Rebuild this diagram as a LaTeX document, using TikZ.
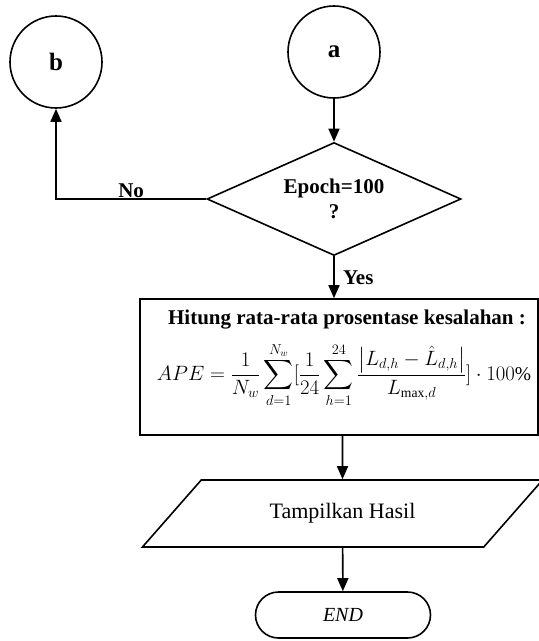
\documentclass[tikz,border=0pt]{standalone}
\usepackage{amsmath}
\usepackage{fontspec}
\setmainfont{Liberation Serif}
\usetikzlibrary{shapes.geometric,arrows.meta}

\newcommand{\apeformula}{$\displaystyle APE=\frac{1}{N_w}\sum_{d=1}^{N_w}[\frac{1}{24}\sum_{h=1}^{24}\frac{\bigl|L_{d,h}-\hat{L}_{d,h}\bigr|}{L_{\max,d}}]\cdot 100\%$}

\begin{document}
\begin{tikzpicture}[x=1pt,y=-1pt,line width=1.6pt,
    >={Triangle[length=13pt,width=11pt]},
    every node/.style={font=\fontsize{21}{24}\selectfont},
    conn/.style={draw,circle,minimum size=92pt,inner sep=0pt,font=\fontsize{25}{28}\selectfont\bfseries},
    decision/.style={draw,diamond,aspect=2.25,minimum width=254pt,minimum height=113pt,inner sep=0pt,align=center,font=\fontsize{21}{25}\selectfont\bfseries},
    procbox/.style={draw,rectangle,minimum width=398pt,minimum height=136pt},
    io/.style={draw,trapezium,trapezium left angle=40,trapezium right angle=140,trapezium stretches=true,minimum width=401pt,minimum height=67pt,font=\fontsize{22}{24}\selectfont},
    term/.style={draw,rounded corners=23pt,minimum width=175pt,minimum height=46pt,font=\fontsize{20}{24}\selectfont\itshape}]
    \useasboundingbox (0,0) rectangle (539,641);

    \node[conn] (a) at (334,52) {a};
    \node[conn] (b) at (56,62) {b};
    \node[decision] (dec) at (334,199) {Epoch=100\\?};
    \node[procbox] (calc) at (339,367) {};
    \node[font=\fontsize{21}{24}\selectfont\bfseries] (calctitle) at (347,320) {Hitung rata-rata prosentase kesalahan :};
    \node[font=\fontsize{19.5}{24}\selectfont] (calcformula) at (344,375) {\mbox{\apeformula}};
    \node[io] (out) at (342.5,513.5) {Tampilkan Hasil};
    \node[term] (end) at (343,615) {END};

    \draw[->] (a) -- (a |- dec.north);
    \draw[->] (dec.west) -| node[pos=0.25,above,inner sep=1pt,font=\fontsize{21}{24}\selectfont\bfseries] {No} (b);
    \draw[->] (dec.south) -- node[right,xshift=5pt,font=\fontsize{21}{24}\selectfont\bfseries] {Yes} (dec.south |- calc.north);
    \draw[->] (out.north |- calc.south) -- (out);
    \draw[->] (out) -- (end);
\end{tikzpicture}
\end{document}
